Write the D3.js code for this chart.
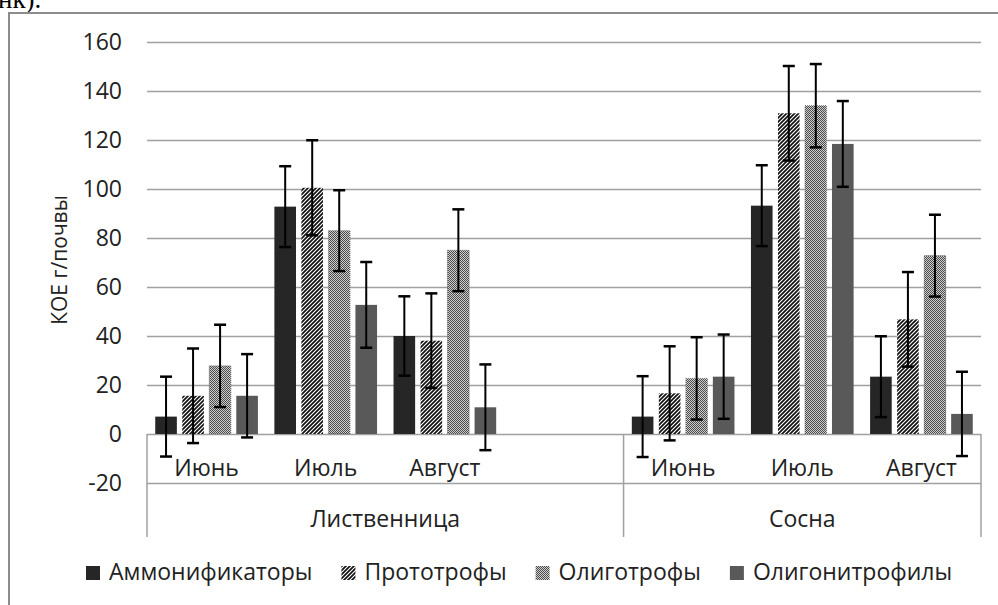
<html>
<head>
<meta charset="utf-8">
<script src="https://d3js.org/d3.v7.min.js"></script>
<style>
body {
	margin:0;
	background:#fff;
}
svg text {
	font-family:"Open Sans", sans-serif;
	fill:#222;
}
</style>
</head>
<body>
<div id="chart"></div>
<script>

// categories: species (top level) and month (first level); 4th larch slot is empty
var catSpecies = ["Лиственница", "Лиственница", "Лиственница", "Лиственница", "Сосна", "Сосна", "Сосна"];
var catMonth = ["Июнь", "Июль", "Август", "", "Июнь", "Июль", "Август"];
var speciesNames = ["Лиственница", "Сосна"];

var seriesNames = ["Аммонификаторы", "Прототрофы", "Олиготрофы", "Олигонитрофилы"];

// values, КОЕ г/почвы
var ammon = [7.1, 92.8, 40, null, 7.1, 93.2, 23.4];
var proto = [15.6, 100.5, 38.1, null, 16.6, 130.9, 46.8];
var oligo = [27.8, 83, 75, null, 22.7, 134, 72.8];
var oligoN = [15.6, 52.7, 10.9, null, 23.4, 118.4, 8.2];

// error bar half-widths
var ammonErr = [16.3, 16.5, 16.2, null, 16.5, 16.5, 16.5];
var protoErr = [19.3, 19.4, 19.3, null, 19.2, 19.3, 19.3];
var oligoErr = [16.8, 16.5, 16.7, null, 16.8, 17, 16.7];
var oligoNErr = [17, 17.5, 17.5, null, 17.2, 17.5, 17.2];

var yTicks = [-20, 0, 20, 40, 60, 80, 100, 120, 140, 160];

var seriesValues = [ammon, proto, oligo, oligoN];
var seriesErrors = [ammonErr, protoErr, oligoErr, oligoNErr];
var fills = ["#262626", "url(#hatch)", "url(#dots)", "#595959"];

var W = 998, H = 605;
var plot = {left:147, right:981, top:42, bottom:483};
var sepBottom = 537;

var svg = d3.select("#chart").append("svg")
	.attr("width", W)
	.attr("height", H);

// patterns
var defs = svg.append("defs");
var hatch = defs.append("pattern")
	.attr("id", "hatch")
	.attr("patternUnits", "userSpaceOnUse")
	.attr("width", 4)
	.attr("height", 4);
hatch.append("rect").attr("width", 4).attr("height", 4).attr("fill", "#fff");
hatch.append("path")
	.attr("d", "M-1,5 L5,-1 M-3,3 L3,-3 M1,7 L7,1")
	.attr("stroke", "#111")
	.attr("stroke-width", 1.7);

var dots = defs.append("pattern")
	.attr("id", "dots")
	.attr("patternUnits", "userSpaceOnUse")
	.attr("width", 2)
	.attr("height", 2);
dots.append("rect").attr("width", 2).attr("height", 2).attr("fill", "#cfcfcf");
dots.append("rect").attr("width", 1).attr("height", 1).attr("fill", "#4a4a4a");
dots.append("rect").attr("x", 1).attr("y", 1).attr("width", 1).attr("height", 1).attr("fill", "#4a4a4a");

// fragment of page text above the chart (cut at the top edge, as in the source)
svg.append("text")
	.attr("x", -2)
	.attr("y", 8)
	.style("font-family", "'Liberation Serif', serif")
	.style("font-size", "27px")
	.style("fill", "#000")
	.text("нк).");

// chart frame
svg.append("rect")
	.attr("x", 9)
	.attr("y", 13)
	.attr("width", 1000)
	.attr("height", 700)
	.attr("fill", "none")
	.attr("stroke", "#8c8c8c")
	.attr("stroke-width", 2);

var y = d3.scaleLinear().domain([-20, 160]).range([plot.bottom, plot.top]);

var x0 = d3.scaleBand()
	.domain(d3.range(catMonth.length))
	.range([plot.left, plot.right])
	.padding(0);

var x1 = d3.scaleBand()
	.domain(d3.range(seriesNames.length))
	.range([0, x0.bandwidth()])
	.paddingInner(0.2)
	.paddingOuter(0.305);

// y axis with gridlines
var yAxis = d3.axisLeft(y)
	.tickValues(yTicks)
	.tickSize(-(plot.right - plot.left))
	.tickPadding(25)
	.tickFormat(function(d) { return String(d); });

var gy = svg.append("g")
	.attr("transform", "translate(" + plot.left + ",0)")
	.call(yAxis);
gy.select(".domain").remove();
gy.selectAll(".tick line")
	.attr("stroke", "#a0a0a0")
	.attr("stroke-width", 1.5);
gy.selectAll(".tick text")
	.style("font-size", "23px")
	.style("font-family", "'Open Sans', sans-serif")
	.attr("fill", "#222");

// y axis title
svg.append("text")
	.attr("transform", "translate(67,260) rotate(-90)")
	.attr("text-anchor", "middle")
	.style("font-size", "21px")
	.text("КОЕ г/почвы");

// category separators
var sepX = [plot.left];
speciesNames.forEach(function(s) {
	var idx = catSpecies.map(function(c, i) { return c === s ? i : -1; }).filter(function(i) { return i >= 0; });
	sepX.push(x0(idx[idx.length - 1]) + x0.bandwidth());
});
svg.selectAll(".sep")
	.data(sepX)
	.enter()
	.append("line")
	.attr("class", "sep")
	.attr("x1", function(d) { return d; })
	.attr("x2", function(d) { return d; })
	.attr("y1", y(0))
	.attr("y2", sepBottom)
	.attr("stroke", "#a0a0a0")
	.attr("stroke-width", 1.5);

// bars
var barData = [];
seriesValues.forEach(function(vals, s) {
	vals.forEach(function(v, i) {
		if (v !== null) barData.push({s:s, i:i, v:v, e:seriesErrors[s][i]});
	});
});

svg.selectAll(".bar")
	.data(barData)
	.enter()
	.append("rect")
	.attr("class", "bar")
	.attr("x", function(d) { return x0(d.i) + x1(d.s); })
	.attr("y", function(d) { return y(d.v); })
	.attr("width", x1.bandwidth())
	.attr("height", function(d) { return y(0) - y(d.v); })
	.attr("fill", function(d) { return fills[d.s]; })
	.attr("stroke", function(d) { return d.s === 2 ? "#777" : "none"; })
	.attr("stroke-dasharray", "1,1")
	.attr("stroke-width", 1);

// error bars
var err = svg.selectAll(".err")
	.data(barData)
	.enter()
	.append("g")
	.attr("class", "err")
	.attr("transform", function(d) { return "translate(" + (x0(d.i) + x1(d.s) + x1.bandwidth() / 2) + ",0)"; });
err.append("line")
	.attr("y1", function(d) { return y(d.v + d.e); })
	.attr("y2", function(d) { return y(d.v - d.e); })
	.attr("stroke", "#000")
	.attr("stroke-width", 2);
err.append("line")
	.attr("x1", -6).attr("x2", 6)
	.attr("y1", function(d) { return y(d.v + d.e); })
	.attr("y2", function(d) { return y(d.v + d.e); })
	.attr("stroke", "#000")
	.attr("stroke-width", 2.5);
err.append("line")
	.attr("x1", -6).attr("x2", 6)
	.attr("y1", function(d) { return y(d.v - d.e); })
	.attr("y2", function(d) { return y(d.v - d.e); })
	.attr("stroke", "#000")
	.attr("stroke-width", 2.5);

// month labels
svg.selectAll(".month")
	.data(catMonth)
	.enter()
	.append("text")
	.attr("class", "month")
	.attr("x", function(d, i) { return x0(i) + x0.bandwidth() / 2; })
	.attr("y", 476)
	.attr("text-anchor", "middle")
	.style("font-size", "23px")
	.text(function(d) { return d; });

// species labels
svg.selectAll(".species")
	.data(speciesNames)
	.enter()
	.append("text")
	.attr("class", "species")
	.attr("x", function(d, k) { return (sepX[k] + sepX[k + 1]) / 2; })
	.attr("y", 527)
	.attr("text-anchor", "middle")
	.style("font-size", "23px")
	.text(function(d) { return d; });

// legend
var lx = 86;
seriesNames.forEach(function(name, s) {
	svg.append("rect")
		.attr("x", lx)
		.attr("y", 566)
		.attr("width", 14)
		.attr("height", 14)
		.attr("fill", fills[s]);
	var t = svg.append("text")
		.attr("x", lx + 23)
		.attr("y", 580)
		.style("font-size", "23px")
		.text(name);
	lx = lx + 23 + t.node().getComputedTextLength() + 29;
});

</script>
</body>
</html>
